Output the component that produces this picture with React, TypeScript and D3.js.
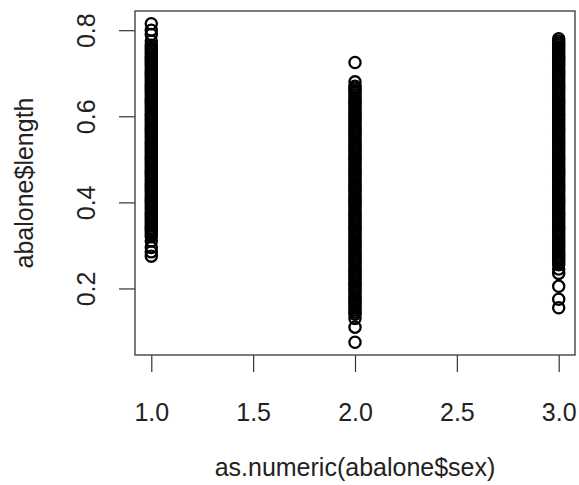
import { useEffect, useRef } from "react";
import * as d3 from "d3";

// abalone$length plotted against as.numeric(abalone$sex)  (F = 1, I = 2, M = 3)

const LENGTH_F = [
  0.275, 0.285, 0.295, 0.31,
  0.32, 0.325, 0.33, 0.335, 0.34, 0.345, 0.35, 0.355, 0.36, 0.365,
  0.37, 0.375, 0.38, 0.385, 0.39, 0.395, 0.4, 0.405, 0.41, 0.415,
  0.42, 0.425, 0.43, 0.435, 0.44, 0.445, 0.45, 0.455, 0.46, 0.465,
  0.47, 0.475, 0.48, 0.485, 0.49, 0.495, 0.5, 0.505, 0.51, 0.515,
  0.52, 0.525, 0.53, 0.535, 0.54, 0.545, 0.55, 0.555, 0.56, 0.565,
  0.57, 0.575, 0.58, 0.585, 0.59, 0.595, 0.6, 0.605, 0.61, 0.615,
  0.62, 0.625, 0.63, 0.635, 0.64, 0.645, 0.65, 0.655, 0.66, 0.665,
  0.67, 0.675, 0.68, 0.685, 0.69, 0.695, 0.7, 0.705, 0.71, 0.715,
  0.72, 0.725, 0.73, 0.735, 0.74, 0.745, 0.75, 0.755, 0.76, 0.765,
  0.775, 0.79, 0.8, 0.815,
];

const LENGTH_I = [
  0.075, 0.11, 0.13,
  0.14, 0.145, 0.15, 0.155, 0.16, 0.165, 0.17, 0.175, 0.18, 0.185,
  0.19, 0.195, 0.2, 0.205, 0.21, 0.215, 0.22, 0.225, 0.23, 0.235,
  0.24, 0.245, 0.25, 0.255, 0.26, 0.265, 0.27, 0.275, 0.28, 0.285,
  0.29, 0.295, 0.3, 0.305, 0.31, 0.315, 0.32, 0.325, 0.33, 0.335,
  0.34, 0.345, 0.35, 0.355, 0.36, 0.365, 0.37, 0.375, 0.38, 0.385,
  0.39, 0.395, 0.4, 0.405, 0.41, 0.415, 0.42, 0.425, 0.43, 0.435,
  0.44, 0.445, 0.45, 0.455, 0.46, 0.465, 0.47, 0.475, 0.48, 0.485,
  0.49, 0.495, 0.5, 0.505, 0.51, 0.515, 0.52, 0.525, 0.53, 0.535,
  0.54, 0.545, 0.55, 0.555, 0.56, 0.565, 0.57, 0.575, 0.58, 0.585,
  0.59, 0.595, 0.6, 0.605, 0.61, 0.615, 0.62, 0.625, 0.63, 0.635,
  0.64, 0.645, 0.65, 0.655, 0.66, 0.665, 0.67,
  0.68, 0.725,
];

const LENGTH_M = [
  0.155, 0.175, 0.205, 0.235,
  0.245, 0.255, 0.26, 0.265, 0.27, 0.275, 0.28, 0.285,
  0.29, 0.295, 0.3, 0.305, 0.31, 0.315, 0.32, 0.325, 0.33, 0.335,
  0.34, 0.345, 0.35, 0.355, 0.36, 0.365, 0.37, 0.375, 0.38, 0.385,
  0.39, 0.395, 0.4, 0.405, 0.41, 0.415, 0.42, 0.425, 0.43, 0.435,
  0.44, 0.445, 0.45, 0.455, 0.46, 0.465, 0.47, 0.475, 0.48, 0.485,
  0.49, 0.495, 0.5, 0.505, 0.51, 0.515, 0.52, 0.525, 0.53, 0.535,
  0.54, 0.545, 0.55, 0.555, 0.56, 0.565, 0.57, 0.575, 0.58, 0.585,
  0.59, 0.595, 0.6, 0.605, 0.61, 0.615, 0.62, 0.625, 0.63, 0.635,
  0.64, 0.645, 0.65, 0.655, 0.66, 0.665, 0.67, 0.675, 0.68, 0.685,
  0.69, 0.695, 0.7, 0.705, 0.71, 0.715, 0.72, 0.725, 0.73, 0.735,
  0.74, 0.745, 0.75, 0.755, 0.76, 0.765, 0.77, 0.775, 0.78,
];

const SEX_CODES = [1, 2, 3];
const X_TICKS = [1.0, 1.5, 2.0, 2.5, 3.0];
const Y_TICKS = [0.2, 0.4, 0.6, 0.8];

const X_LABEL = "as.numeric(abalone$sex)";
const Y_LABEL = "abalone$length";

const FONT = "'Liberation Sans', Arial, Helvetica, sans-serif";

export default function App() {
  const svgRef = useRef<SVGSVGElement>(null);

  useEffect(() => {
    const width = 579;
    const height = 485;
    const margin = { top: 11, right: 4, bottom: 130, left: 135 };
    const innerW = width - margin.left - margin.right;
    const innerH = height - margin.top - margin.bottom;

    const groups = [LENGTH_F, LENGTH_I, LENGTH_M];
    const points = groups.flatMap((vals, i) =>
      vals.map((v) => ({ sex: SEX_CODES[i], length: v }))
    );

    const svg = d3.select(svgRef.current);
    svg.selectAll("*").remove();
    svg.attr("width", width).attr("height", height);

    svg.append("rect")
      .attr("width", width).attr("height", height)
      .attr("fill", "#fff");

    const g = svg.append("g")
      .attr("transform", `translate(${margin.left},${margin.top})`);

    // R style 4% padding on each side of the data range
    const [x0, x1] = d3.extent(points, (d) => d.sex) as [number, number];
    const [y0, y1] = d3.extent(points, (d) => d.length) as [number, number];
    const xPad = (x1 - x0) * 0.04;
    const yPad = (y1 - y0) * 0.04;

    const xScale = d3.scaleLinear()
      .domain([x0 - xPad, x1 + xPad])
      .range([0, innerW]);
    const yScale = d3.scaleLinear()
      .domain([y0 - yPad, y1 + yPad])
      .range([innerH, 0]);

    // ----- points (open circles, pch = 1) -----
    g.append("g")
      .selectAll("circle")
      .data(points)
      .join("circle")
      .attr("cx", (d) => xScale(d.sex))
      .attr("cy", (d) => yScale(d.length))
      .attr("r", 5.6)
      .attr("fill", "none")
      .attr("stroke", "#000")
      .attr("stroke-width", 2.3);

    // ----- axes -----
    const xAxisG = g.append("g")
      .attr("transform", `translate(0,${innerH})`)
      .call(d3.axisBottom(xScale).tickValues(X_TICKS).tickSize(17).tickFormat(d3.format(".1f")));
    xAxisG.select(".domain").remove();
    xAxisG.selectAll("line").attr("stroke", "#333").attr("stroke-width", 1.2);
    xAxisG.selectAll("text")
      .attr("y", 66)
      .attr("dy", 0)
      .attr("fill", "#222")
      .attr("font-family", FONT)
      .attr("font-size", "25px");

    const yAxisG = g.append("g")
      .call(d3.axisLeft(yScale).tickValues(Y_TICKS).tickSize(16).tickFormat(d3.format(".1f")));
    yAxisG.select(".domain").remove();
    yAxisG.selectAll("line").attr("stroke", "#333").attr("stroke-width", 1.2);
    yAxisG.selectAll("text")
      .attr("transform", "rotate(-90)")
      .attr("x", 0)
      .attr("y", -40)
      .attr("dy", 0)
      .attr("text-anchor", "middle")
      .attr("fill", "#222")
      .attr("font-family", FONT)
      .attr("font-size", "25px");

    // plot box
    g.append("rect")
      .attr("width", innerW)
      .attr("height", innerH)
      .attr("fill", "none")
      .attr("stroke", "#444")
      .attr("stroke-width", 1.4);

    // ----- axis titles -----
    svg.append("text")
      .attr("x", margin.left + innerW / 2)
      .attr("y", 476)
      .attr("text-anchor", "middle")
      .attr("fill", "#222")
      .attr("font-family", FONT)
      .attr("font-size", "25px")
      .text(X_LABEL);

    svg.append("text")
      .attr("transform", `translate(33,${margin.top + innerH / 2}) rotate(-90)`)
      .attr("text-anchor", "middle")
      .attr("fill", "#222")
      .attr("font-family", FONT)
      .attr("font-size", "25px")
      .text(Y_LABEL);
  }, []);

  return (
    <div style={{ position: "absolute", left: 0, top: 0 }}>
      <svg ref={svgRef}></svg>
    </div>
  );
}
